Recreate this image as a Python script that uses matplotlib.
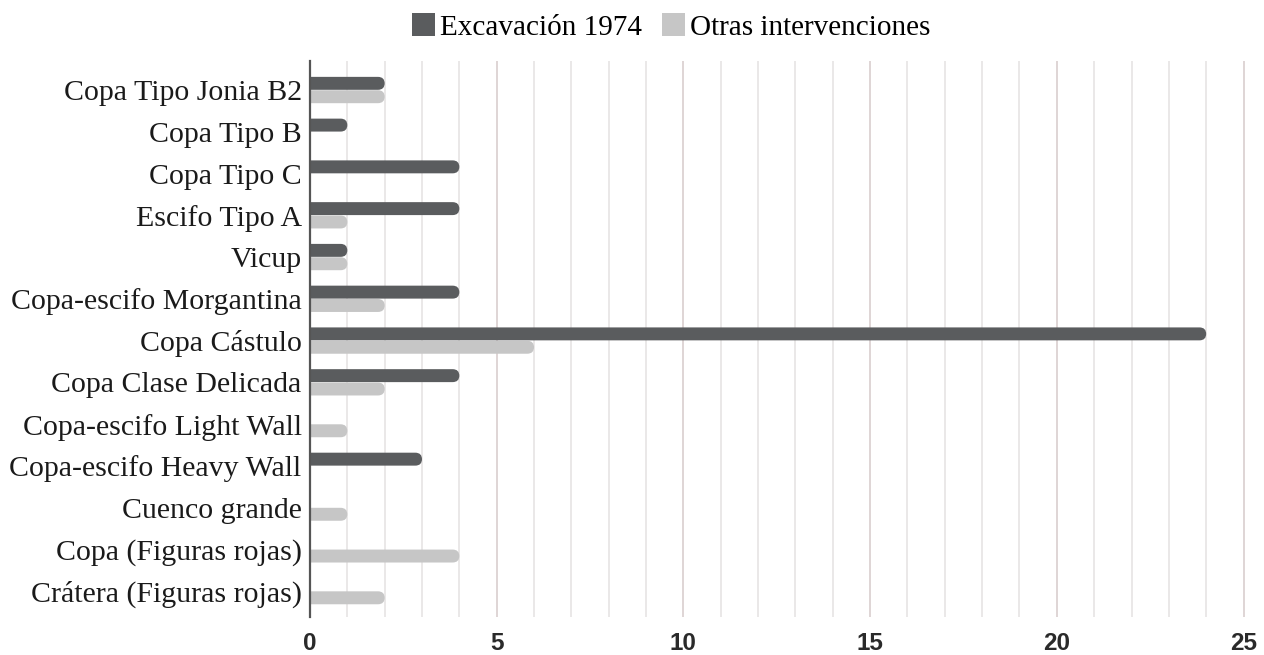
import matplotlib
matplotlib.use("Agg")
import matplotlib.pyplot as plt
from matplotlib.patches import FancyBboxPatch, Patch
import numpy as np

categories = ["Copa Tipo Jonia B2", "Copa Tipo B", "Copa Tipo C", "Escifo Tipo A",
              "Vicup", "Copa-escifo Morgantina", "Copa Cástulo", "Copa Clase Delicada",
              "Copa-escifo Light Wall", "Copa-escifo Heavy Wall", "Cuenco grande",
              "Copa (Figuras rojas)", "Crátera (Figuras rojas)"]
excavacion = [2, 1, 4, 4, 1, 4, 24, 4, 0, 3, 0, 0, 0]
otras = [2, 0, 0, 1, 1, 2, 6, 2, 1, 0, 1, 4, 2]
series_names = ["Excavación 1974", "Otras intervenciones"]
xticks = [0, 5, 10, 15, 20, 25]

dark = "#5a5c5e"
light = "#c6c6c6"

W, H = 1264, 655
fig = plt.figure(figsize=(W / 100, H / 100), dpi=100)
ax = fig.add_axes([310 / W, 1 - 617 / H, (1251 - 310) / W, (617 - 61) / H])

y = np.arange(len(categories))
h = 0.31
off = 0.16
ax.set_xlim(0, 25.2)
ax.set_ylim(12.62, -0.695)

px_x = (1251 - 310) / 25.2
px_y = (617 - 61) / (12.62 + 0.695)
rx = 0.18
aspect = px_x / px_y

for vals, dy, col in [(excavacion, -off, dark), (otras, off, light)]:
    bars = ax.barh(y + dy, vals, height=h, color=col, zorder=2)
    for b in bars:
        w = b.get_width()
        b.set_visible(False)
        if w <= 0:
            continue
        p = FancyBboxPatch((b.get_x() - 0.4, b.get_y()), w + 0.4, b.get_height(),
                           boxstyle=f"round,pad=0,rounding_size={rx}",
                           mutation_aspect=aspect, facecolor=col, edgecolor="none",
                           zorder=2, clip_on=True)
        ax.add_patch(p)

for v in range(1, 26):
    c = "#dcd2d2" if v % 5 == 0 else "#e8e6e6"
    ax.axvline(v, color=c, lw=1.3, zorder=1)

for s in ["top", "right", "bottom"]:
    ax.spines[s].set_visible(False)
ax.spines["left"].set_color("#555555")
ax.spines["left"].set_linewidth(1.6)
ax.spines["left"].set_zorder(3)

ax.set_yticks(y)
ax.set_yticklabels(categories, fontfamily="Liberation Serif", fontsize=21.5, color="#1a1a1a")
ax.tick_params(axis="y", length=0, pad=6)
ax.set_xticks(xticks)
ax.set_xticklabels([str(t) for t in xticks], fontfamily="Liberation Sans", fontsize=17.5,
                   fontweight="bold", color="#2a2a2a")
ax.tick_params(axis="x", length=0, pad=11)

handles = [Patch(facecolor=dark, edgecolor="none"), Patch(facecolor=light, edgecolor="none")]
fig.legend(handles, series_names, loc="center", bbox_to_anchor=(671 / W, 1 - 27 / H),
           ncol=2, frameon=False, prop={"family": "Liberation Serif", "size": 21},
           handlelength=0.8, handleheight=0.8, handletextpad=0.15, columnspacing=0.7)

fig.savefig("out.png", dpi=100)
